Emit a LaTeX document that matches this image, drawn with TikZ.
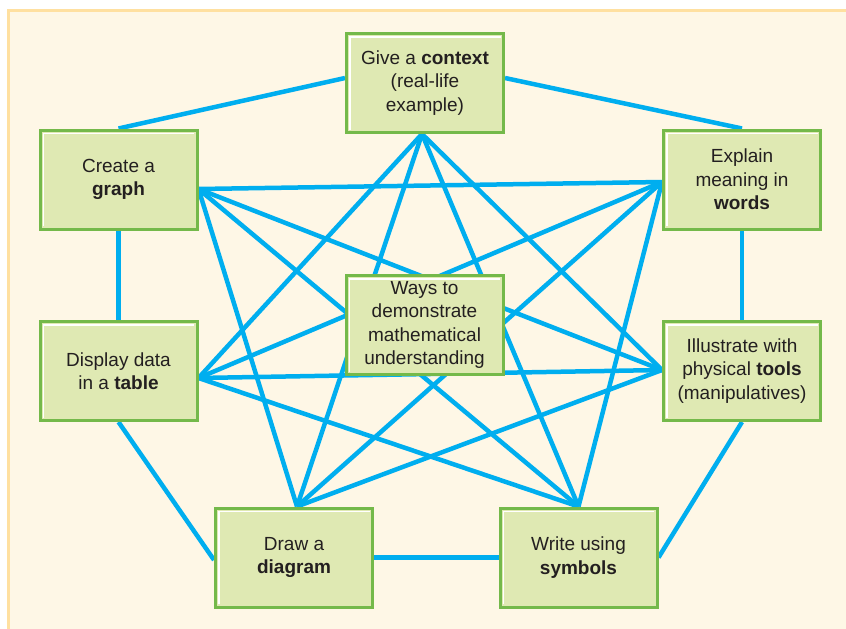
\documentclass[tikz,border=0pt]{standalone}
\usepackage{fontspec}
\setmainfont{Liberation Sans}
\definecolor{paper}{HTML}{FEF7E6}
\definecolor{paperedge}{HTML}{FFE0A0}
\definecolor{boxfill}{HTML}{DFE9B3}
\definecolor{boxedge}{HTML}{74B94A}
\definecolor{link}{HTML}{00AEEF}
\definecolor{ink}{HTML}{231F20}
\pgfdeclarelayer{paperlayer}
\pgfdeclarelayer{linklayer}
\pgfsetlayers{paperlayer,linklayer,main}
\tikzset{
  waybox/.style={
    draw=boxedge, line width=3pt, fill=boxfill,
    minimum width=157pt, minimum height=99pt, inner sep=0pt,
    align=center, text=ink,
    font=\fontsize{19}{23.5}\selectfont,
    path picture={
      \draw[white, line width=1.6pt]
        ([shift={(3.3pt,3pt)}]path picture bounding box.south west)
        |- ([shift={(-3pt,-3.3pt)}]path picture bounding box.north east);
    }
  },
  wayline/.style={draw=link, line width=4.5pt}
}
\begin{document}
\begin{tikzpicture}[x=1pt,y=-1pt]
\useasboundingbox (0,0) rectangle (846,629);

% the seven ways around the ring, and the topic in the middle
\node[waybox] (ctx)     at (425,83)      {Give a \textbf{context}\\(real-life\\example)};
\node[waybox] (graph)   at (118.5,179.5) {Create a\\\textbf{graph}};
\node[waybox] (words)   at (742,179.5)   {Explain\\meaning in\\\textbf{words}};
\node[waybox] (table)   at (118.5,371)   {Display data\\in a \textbf{table}};
\node[waybox] (tools)   at (742,371)     {Illustrate with\\physical \textbf{tools}\\(manipulatives)};
\node[waybox] (diagram) at (294,557.5)   {Draw a\\\textbf{diagram}};
\node[waybox] (symbols) at (578.5,557.5) {Write using\\\textbf{symbols}};
\node[waybox] (centre)  at (424.5,325)   {Ways to\\demonstrate\\mathematical\\understanding};

\begin{pgfonlayer}{paperlayer}
  \clip (0,0) rectangle (846,629);
  \fill[white] (-5,-5) rectangle (860,640);
  \fill[paper] (8.7,10.5) rectangle (860,640);
  % edge of the panel along its left and top sides
  \draw[paperedge, line width=3pt] (8.7,640) -- (8.7,10.5) -- (860,10.5);
\end{pgfonlayer}

\begin{pgfonlayer}{linklayer}
  % outer ring
  \draw[wayline] (graph.north) -- ([yshift=5pt]ctx.west);
  \draw[wayline] ([yshift=5pt]ctx.east) -- (words.north);
  \draw[wayline] (graph.south) -- (table.north);
  \draw[wayline] (words.south) -- (tools.north);
  \draw[wayline] (table.south) -- ([yshift=-2.5pt]diagram.west);
  \draw[wayline] (tools.south) -- (symbols.east);
  \draw[wayline] (diagram.east) -- (symbols.west);
  % every other pair, crossing behind the middle box
  \draw[wayline] ([xshift=-3pt]ctx.south) -- ([yshift=1pt]tools.west);
  \draw[wayline] ([xshift=-3pt]ctx.south) -- (symbols.north);
  \draw[wayline] ([xshift=-3pt]ctx.south) -- ([xshift=3pt]diagram.north);
  \draw[wayline] ([xshift=-3pt]ctx.south) -- ([yshift=-7pt]table.east);
  \draw[wayline] ([yshift=-2.5pt]words.west) -- (symbols.north);
  \draw[wayline] ([yshift=-2.5pt]words.west) -- ([xshift=3pt]diagram.north);
  \draw[wayline] ([yshift=-2.5pt]words.west) -- ([yshift=-7pt]table.east);
  \draw[wayline] ([yshift=-2.5pt]words.west) -- ([yshift=-9.5pt]graph.east);
  \draw[wayline] ([yshift=1pt]tools.west) -- ([xshift=3pt]diagram.north);
  \draw[wayline] ([yshift=1pt]tools.west) -- ([yshift=-7pt]table.east);
  \draw[wayline] ([yshift=1pt]tools.west) -- ([yshift=-9.5pt]graph.east);
  \draw[wayline] (symbols.north) -- ([yshift=-7pt]table.east);
  \draw[wayline] (symbols.north) -- ([yshift=-9.5pt]graph.east);
  \draw[wayline] ([xshift=3pt]diagram.north) -- ([yshift=-9.5pt]graph.east);
\end{pgfonlayer}
\end{tikzpicture}
\end{document}
